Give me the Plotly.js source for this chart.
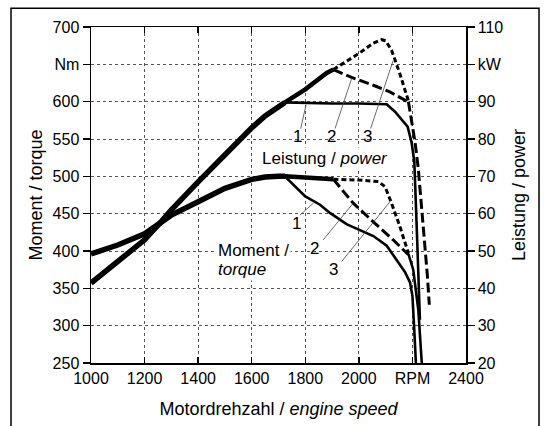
<!DOCTYPE html>
<html>
<head>
<meta charset="utf-8">
<script src="https://cdn.plot.ly/plotly-3.0.1.min.js"></script>
<style>html,body{margin:0;padding:0;background:#fff;}#chart{width:545px;height:426px;}</style>
</head>
<body>
<div id="chart"></div>
<script>
// ---- data (engine speed in RPM, torque in Nm, power in kW) ----
// common part of all three variants
const commonRpm    = [1000, 1100, 1200, 1264, 1300, 1400, 1500, 1600, 1650, 1700, 1724];
const commonTorque = [396, 408, 423, 439, 448, 466, 484, 496, 499, 500, 500];
const commonPower  = [41.4, 47, 53, 58, 61, 68.5, 76, 83, 86.2, 88.8, 89.8];

// variant 1
const t1Rpm    = [1724, 1800, 1855, 1892, 1954, 2004, 2054, 2104, 2141, 2172, 2191, 2200, 2206, 2213];
const t1Torque = [500, 473, 462, 451, 436, 428, 420, 407, 388, 372, 358, 340, 300, 250];
const p1Rpm    = [1724, 1800, 1900, 2000, 2104, 2135, 2166, 2182, 2197, 2207, 2216, 2224, 2228];
const p1Power  = [89.8, 89.6, 89.5, 89.5, 89.3, 87.3, 84.6, 83.3, 79, 74, 56.5, 38.7, 31.6];

// shared by variants 2 and 3
const s23Rpm    = [1724, 1800, 1880, 1905];
const s23Torque = [500, 498, 497, 496];
const s23Power  = [89.8, 93.3, 97.7, 98.6];

// variant 2
const t2Rpm    = [1905, 1979, 2054, 2128, 2185];
const t2Torque = [496, 464, 439, 415, 395];
const p2Rpm    = [1905, 1973, 2054, 2116, 2185];
const p2Power  = [98.6, 96.5, 94.4, 92.6, 89.9];

// variant 3
const t3Rpm    = [1905, 2000, 2073, 2098, 2122, 2153, 2185];
const t3Torque = [496, 495, 493, 486, 464, 433, 397];
const p3Rpm    = [1905, 2000, 2054, 2085, 2100, 2122, 2153, 2185];
const p3Power  = [98.6, 102.9, 105.7, 106.6, 106.3, 103.8, 97.5, 90.2];

// common tail of variants 2 and 3
const tt23Rpm    = [2185, 2203, 2222, 2235];
const tt23Torque = [396, 375, 321, 250];
const pt23Rpm    = [2185, 2210, 2222, 2241, 2256, 2263];
const pt23Power  = [90, 79, 72, 56.5, 43.2, 35.6];

// axis ticks
const xTickVals  = [1000, 1200, 1400, 1600, 1800, 2000, 2200, 2400];
const xTickText  = ['1000', '1200', '1400', '1600', '1800', '2000', 'RPM', '2400'];
const yTickVals  = [250, 300, 350, 400, 450, 500, 550, 600, 650, 700];
const yTickText  = ['250', '300', '350', '400', '450', '500', '550', '600', 'Nm', '700'];
const y2TickVals = [20, 30, 40, 50, 60, 70, 80, 90, 100, 110];
const y2TickText = ['20', '30', '40', '50', '60', '70', '80', '90', 'kW', '110'];

const FONT = 'Liberation Sans, Arial, sans-serif';
const BLACK = '#000';

function tr(x, y, axis, width, dash) {
  return {x: x, y: y, yaxis: axis, type: 'scatter', mode: 'lines',
          line: {color: BLACK, width: width, dash: dash || 'solid'},
          hoverinfo: 'skip', showlegend: false};
}

const data = [
  tr(commonRpm, commonTorque, 'y', 5.5),
  tr(commonRpm, commonPower, 'y2', 5.5),
  tr(t1Rpm, t1Torque, 'y', 2.6),
  tr(p1Rpm, p1Power, 'y2', 2.6),
  tr(s23Rpm, s23Torque, 'y', 4.5),
  tr(s23Rpm, s23Power, 'y2', 4.5),
  tr(t2Rpm, t2Torque, 'y', 3, '10px,4px'),
  tr(p2Rpm, p2Power, 'y2', 3, '10px,4px'),
  tr(t3Rpm, t3Torque, 'y', 3, '5px,3px'),
  tr(p3Rpm, p3Power, 'y2', 3, '5px,3px'),
  tr(tt23Rpm, tt23Torque, 'y', 2.6),
  tr(pt23Rpm, pt23Power, 'y2', 3, '10px,4px')
];

function ann(x, y, text, extra) {
  return Object.assign({x: x, y: y, xref: 'x', yref: 'y', text: text, showarrow: false,
    font: {family: FONT, size: 17, color: BLACK}}, extra || {});
}
function leader(x0, y0, x1, y1) {
  return {type: 'line', xref: 'x', yref: 'y', x0: x0, y0: y0, x1: x1, y1: y1,
          line: {color: '#444', width: 0.8}};
}

const layout = {
  width: 545, height: 426,
  margin: {l: 91, r: 79, t: 27, b: 63, pad: 0},
  paper_bgcolor: '#fff', plot_bgcolor: '#fff',
  font: {family: FONT, size: 16, color: BLACK},
  showlegend: false,
  xaxis: {
    range: [1000, 2400], tickvals: xTickVals, ticktext: xTickText,
    showgrid: true, gridcolor: '#555', griddash: 'dot', gridwidth: 1,
    showline: true, linecolor: BLACK, linewidth: 1.5, mirror: 'ticks',
    ticks: 'inside', ticklen: 6, tickcolor: BLACK, tickwidth: 1.5,
    zeroline: false, automargin: false,
    tickfont: {family: FONT, size: 16},
    title: {text: 'Motordrehzahl / <i>engine speed</i>', font: {family: FONT, size: 18}, standoff: 16}
  },
  yaxis: {
    range: [250, 700], tickvals: yTickVals, ticktext: yTickText,
    showgrid: true, gridcolor: '#555', griddash: 'dot', gridwidth: 1,
    showline: true, linecolor: BLACK, linewidth: 1.5,
    ticks: 'outside', ticklen: 7, tickcolor: BLACK, tickwidth: 1.5,
    zeroline: false, automargin: false,
    tickfont: {family: FONT, size: 16},
    title: {text: 'Moment / torque', font: {family: FONT, size: 18}, standoff: 5}
  },
  yaxis2: {
    range: [20, 110], tickvals: y2TickVals, ticktext: y2TickText,
    overlaying: 'y', side: 'right', showgrid: false,
    showline: true, linecolor: BLACK, linewidth: 1.5,
    ticks: 'outside', ticklen: 7, tickcolor: BLACK, tickwidth: 1.5,
    zeroline: false, automargin: false,
    tickfont: {family: FONT, size: 16},
    title: {text: 'Leistung / power', font: {family: FONT, size: 18}, standoff: 10}
  },
  shapes: [
    {type: 'rect', xref: 'paper', yref: 'paper', x0: -0.2133, x1: 1.1947, y0: -0.22, y1: 1.0557,
     line: {color: BLACK, width: 1.5}, fillcolor: 'rgba(0,0,0,0)', layer: 'below'},
    // power labels leaders
    leader(1783, 564, 1803, 596),
    leader(1911, 564, 1973, 631),
    leader(2044, 564, 2128, 655),
    // torque labels leaders
    leader(1780, 448, 1830, 464),
    leader(1867, 415, 1979, 464),
    leader(1936, 386, 2116, 466)
  ],
  annotations: [
    ann(1770, 553, '1'), ann(1898, 553, '2'), ann(2031, 553, '3'),
    ann(1875, 524, 'Leistung / <i>power</i>', {bgcolor: '#fff'}),
    ann(1768, 437, '1'), ann(1836, 404, '2'), ann(1905, 375, '3'),
    ann(1466, 401, 'Moment /', {xanchor: 'left', bgcolor: '#fff'}),
    ann(1466, 375, '<i>torque</i>', {xanchor: 'left', bgcolor: '#fff'})
  ]
};

Plotly.newPlot('chart', data, layout, {displayModeBar: false, staticPlot: true});
</script>
</body>
</html>
